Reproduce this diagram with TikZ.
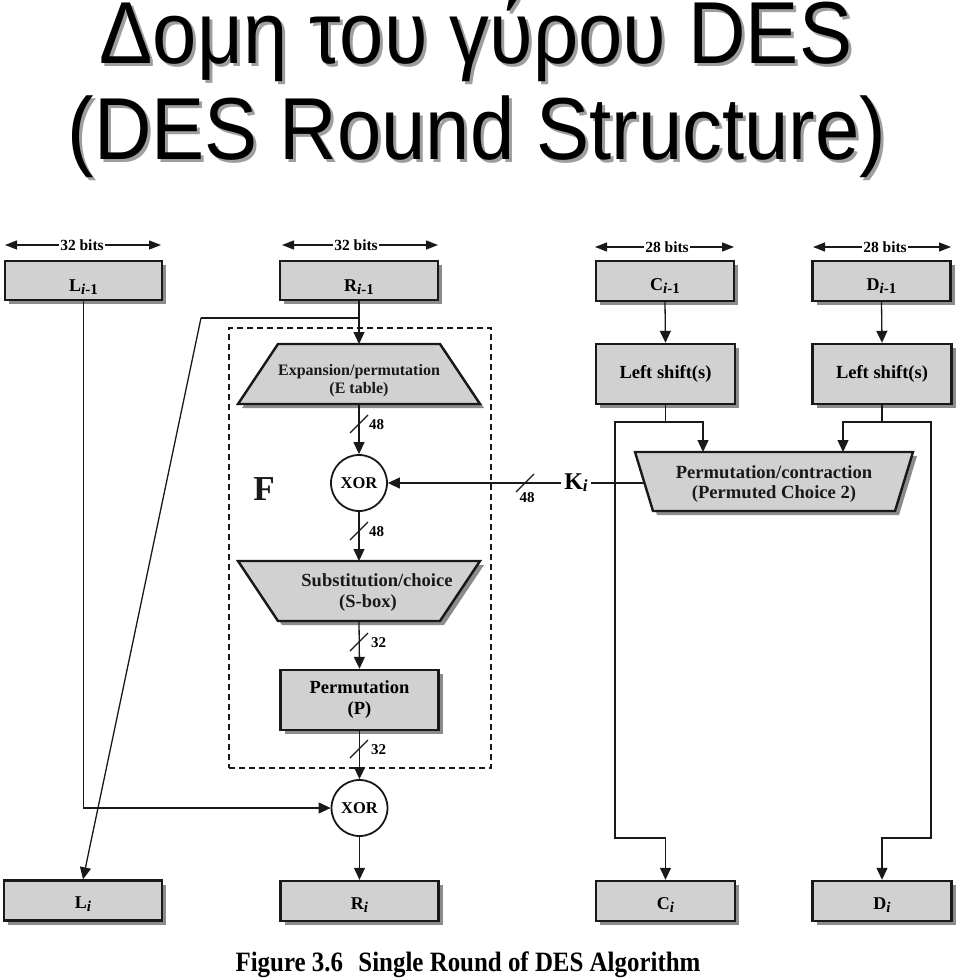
\documentclass[tikz,border=0pt]{standalone}
\usepackage{fontspec}
\setmainfont{Liberation Serif}
\newfontfamily\titlefont[FakeStretch=0.905]{Liberation Sans}
\newfontfamily\capfont[FakeStretch=0.89]{Liberation Serif}
\usetikzlibrary{arrows.meta,shadows}
\definecolor{boxfill}{gray}{0.82}
\definecolor{shadowgray}{gray}{0.55}
\definecolor{titleshadow}{gray}{0.62}
\definecolor{ink}{gray}{0.1}
\newcommand{\subi}[1]{\raisebox{-3pt}{\fontsize{15}{15}\selectfont #1}}
\newcommand{\blab}[2]{\raisebox{-#1}[0pt][0pt]{#2}}
\tikzset{
  shad/.style={drop shadow={shadow xshift=4pt,shadow yshift=-4pt,fill=shadowgray,opacity=1}},
  box/.style={draw=ink, line width=2.4pt, fill=boxfill, shad, inner sep=0pt,
    font=\bfseries\fontsize{18}{20}\selectfont, align=center},
  trap/.style={draw=ink, line width=2.4pt, fill=boxfill, shad, line join=miter},
  hold/.style={inner sep=0pt, outer sep=0pt},
  lbl/.style={inner sep=0pt, align=center, text=ink},
  xor/.style={circle, draw=ink, line width=1.8pt, fill=white, minimum size=56pt,
    inner sep=0pt, font=\bfseries\fontsize{16.5}{18}\selectfont},
  conn/.style={draw=ink, line width=1.3pt},
  arr/.style={conn, -{Triangle[length=12pt,width=11pt]}},
  bitarr/.style={conn, -{Triangle[length=12pt,width=9pt]}},
  bits/.style={inner sep=1pt, font=\bfseries\fontsize{15.5}{16}\selectfont},
  num/.style={inner sep=0pt, anchor=west, font=\bfseries\fontsize{15}{16}\selectfont},
  title/.style={anchor=base, inner sep=0pt, font=\titlefont\fontsize{88}{96}\selectfont},
}
\begin{document}
\begin{tikzpicture}[x=1pt,y=-1pt]
\useasboundingbox (0,0) rectangle (960,979);

% ---------- title ----------
\node[title, text=titleshadow] (t1s) at (479,67) {Δομη του γύρου DES};
\node[title] (t1) at (476,64) {Δομη του γύρου DES};
\node[title, text=titleshadow] (t2s) at (480,162) {(DES Round Structure)};
\node[title] (t2) at (477,159) {(DES Round Structure)};

% ---------- bit widths ----------
\node[bits] (bL) at (82,245) {32 bits};
\coordinate (bL1) at (5,245); \coordinate (bL2) at (161,245);
\draw[bitarr] (bL.west) -- (bL1); \draw[bitarr] (bL.east) -- (bL2);
\node[bits] (bR) at (356,245) {32 bits};
\coordinate (bR1) at (282,245); \coordinate (bR2) at (438,245);
\draw[bitarr] (bR.west) -- (bR1); \draw[bitarr] (bR.east) -- (bR2);
\node[bits] (bC) at (667,247) {28 bits};
\coordinate (bC1) at (595,247); \coordinate (bC2) at (734,247);
\draw[bitarr] (bC.west) -- (bC1); \draw[bitarr] (bC.east) -- (bC2);
\node[bits] (bD) at (885,247) {28 bits};
\coordinate (bD1) at (813,247); \coordinate (bD2) at (951,247);
\draw[bitarr] (bD.west) -- (bD1); \draw[bitarr] (bD.east) -- (bD2);

% ---------- input boxes ----------
\node[box, minimum width=157pt, minimum height=39pt] (Lp) at (83.5,280.5) {\blab{11pt}{L\subi{\textit{i}-1}}};
\node[box, minimum width=158pt, minimum height=39pt] (Rp) at (359,280.5) {\blab{11pt}{R\subi{\textit{i}-1}}};
\node[box, minimum width=138pt, minimum height=40pt] (Cp) at (665,281) {\blab{9pt}{C\subi{\textit{i}-1}}};
\node[box, minimum width=138pt, minimum height=40pt] (Dp) at (881.5,281) {\blab{9pt}{D\subi{\textit{i}-1}}};

% ---------- left shifts ----------
\node[box, minimum width=139pt, minimum height=60pt, font=\bfseries\fontsize{18.5}{20}\selectfont] (CL) at (665.5,374) {Left shift(s)};
\node[box, minimum width=139pt, minimum height=60pt, font=\bfseries\fontsize{18.5}{20}\selectfont] (DL) at (882,374) {Left shift(s)};

% ---------- F function ----------
\node[draw=ink, line width=1.3pt, dash pattern=on 6pt off 4pt, minimum width=262pt, minimum height=440pt, inner sep=0pt] (Fbox) at (360,548) {};
\node[lbl, font=\bfseries\fontsize{35}{35}\selectfont] (F) at (264,489) {F};

% expansion trapezoid
\node[hold, minimum width=242pt, minimum height=60pt] (E) at (359,374) {};
\path[trap] (E.south west) -- (E.south east) -- ([xshift=-40pt]E.north east) -- ([xshift=40pt]E.north west) -- cycle;
\node[lbl, font=\bfseries\fontsize{16}{18}\selectfont] (Et) at (359,381) {Expansion/permutation\\(E table)};

% XOR 1
\node[xor] (X1) at (359,483) {XOR};

% S-box trapezoid
\node[hold, minimum width=242pt, minimum height=60pt] (S) at (359,591) {};
\path[trap] (S.north west) -- (S.north east) -- ([xshift=-40pt]S.south east) -- ([xshift=40pt]S.south west) -- cycle;
\node[lbl, font=\bfseries\fontsize{18.5}{21}\selectfont] (St) at (377,593) {Substitution/choice\\(S-box)\hspace*{18pt}};

% Permutation P
\node[box, minimum width=158pt, minimum height=60pt, font=\bfseries\fontsize{18.5}{21}\selectfont] (P) at (359.5,700) {Permutation\\(P)};

% XOR 2
\node[xor] (X2) at (359.5,808) {XOR};

% ---------- key schedule ----------
\node[hold, minimum width=278pt, minimum height=59pt] (PC) at (774,481.5) {};
\path[trap] (PC.north west) -- (PC.north east) -- ([xshift=-18pt]PC.south east) -- ([xshift=18pt]PC.south west) -- cycle;
\node[lbl, font=\bfseries\fontsize{18.6}{20}\selectfont] (PCt) at (774,484) {Permutation/contraction\\(Permuted Choice 2)};

\node[inner sep=3pt, font=\bfseries\fontsize{24}{24}\selectfont] (K) at (576,483) {K\raisebox{-2pt}{\fontsize{17}{17}\selectfont\textit{i}}};

% ---------- outputs ----------
\node[box, minimum width=158pt, minimum height=40pt] (Ln) at (83,900.5) {\blab{8pt}{L\subi{\textit{i}}}};
\node[box, minimum width=158pt, minimum height=40pt] (Rn) at (359.5,901) {\blab{8pt}{R\subi{\textit{i}}}};
\node[box, minimum width=139pt, minimum height=40pt] (Cn) at (665.5,901) {\blab{8pt}{C\subi{\textit{i}}}};
\node[box, minimum width=139pt, minimum height=40pt] (Dn) at (882,901) {\blab{8pt}{D\subi{\textit{i}}}};

% ---------- connectors ----------
\coordinate (rj) at (359,318);
\coordinate (rk) at (201,318);
\draw[arr] (Rp.south) -- (E.north);
\draw[conn] (rj) -- (rk);
\draw[arr] (rk) -- (Ln.north);
\draw[arr] (Lp.south) |- (X2.west);

\draw[arr] (E.south) -- (X1.north);
\draw[arr] (X1.south) -- (S.north);
\draw[arr] (S.south) -- (P.north);
\draw[arr] (P.south) -- (X2.north);
\draw[arr] (X2.south) -- (Rn.north);

% bit-count marks
\draw[conn] (350,433) -- (368,415);
\node[num] (n1) at (369,425) {48};
\draw[conn] (350,540) -- (368,522);
\node[num] (n2) at (369,532) {48};
\draw[conn] (350,651) -- (368,633);
\node[num] (n3) at (371,643) {32};
\draw[conn] (350,758) -- (368,740);
\node[num] (n4) at (371,750) {32};

% key to XOR
\coordinate (pcw) at (644,483);
\draw[conn] (pcw) -- (K.east);
\draw[arr] (K.west) -- (X1.east);
\draw[conn] (516,492) -- (534,474);
\node[num, anchor=center] (n5) at (527,498) {48};

% C and D paths
\draw[arr] (Cp.south) -- (CL.north);
\draw[arr] (Dp.south) -- (DL.north);
\coordinate (cj) at (665.5,422);
\coordinate (dj) at (882,422);
\coordinate (pcC) at (703,452);
\coordinate (pcD) at (843,452);
\coordinate (cl) at (615,838);
\coordinate (dr) at (931,838);
\draw[conn] (CL.south) -- (cj);
\draw[arr] (cj) -| (pcC);
\draw[arr] (cj) -| (cl) -| (Cn.north);
\draw[conn] (DL.south) -- (dj);
\draw[arr] (dj) -| (pcD);
\draw[arr] (dj) -| (dr) -| (Dn.north);

% ---------- caption ----------
\node[anchor=base, inner sep=0pt, font=\capfont\bfseries\fontsize{28}{30}\selectfont] (cap) at (468,971) {Figure 3.6\hspace{0.55em}Single Round of DES Algorithm};
\end{tikzpicture}
\end{document}
